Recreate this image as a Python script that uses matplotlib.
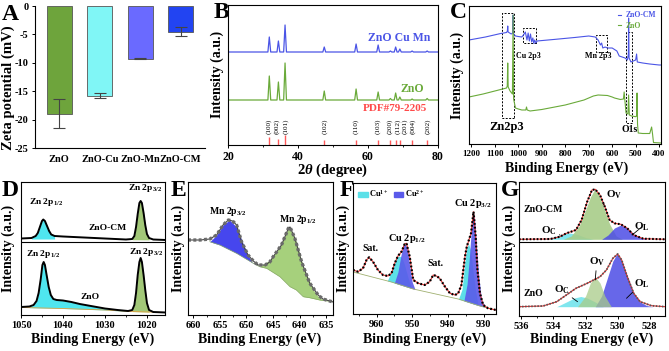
import numpy as np
import matplotlib
matplotlib.use('Agg')
import matplotlib.pyplot as plt
from matplotlib.patches import Patch, Rectangle
from matplotlib.ticker import AutoMinorLocator

plt.rcParams.update({
    'font.family': ['Liberation Serif', 'DejaVu Serif'],
    'font.weight': 'bold',
    'axes.labelweight': 'bold',
    'mathtext.fontset': 'custom',
    'mathtext.rm': 'Liberation Serif:bold',
    'mathtext.it': 'Liberation Serif:italic:bold',
    'mathtext.bf': 'Liberation Serif:bold',
    'mathtext.default': 'rm',
    'axes.unicode_minus': False,
    'axes.linewidth': 0.8,
    'xtick.major.width': 0.7, 'ytick.major.width': 0.7,
    'xtick.minor.width': 0.6, 'ytick.minor.width': 0.6,
    'xtick.major.size': 2.5, 'ytick.major.size': 2.5,
    'xtick.minor.size': 1.5, 'ytick.minor.size': 1.5,
    'xtick.direction': 'out', 'ytick.direction': 'out',
})

# ---------------- data ----------------
# A: zeta potential
zeta_labels = ['ZnO', 'ZnO-Cu', 'ZnO-Mn', 'ZnO-CM']
zeta_values = [-19.0, -15.8, -9.3, -4.5]
zeta_errors = [2.55, 0.4, 0.1, 0.85]
zeta_colors = ['#6ea43c', '#80f6f6', '#6a6aff', '#2244f2']

# B: XRD
xrd_hkl = ['(100)', '(002)', '(101)', '(102)', '(110)', '(103)', '(200)', '(112)', '(201)', '(004)', '(202)']
xrd_pos = [31.8, 34.4, 36.3, 47.5, 56.6, 62.9, 66.4, 67.9, 69.1, 72.6, 76.9]
xrd_label_pos = [31.6, 34.0, 36.4, 47.5, 56.6, 62.9, 66.3, 68.5, 70.6, 72.9, 77.2]
xrd_ref_h = [8.3, 5.7, 10, 5, 5, 5, 4.5, 5, 4.5, 4.5, 4.5]
xrd_zno_peak = [69, 63, 82, 54, 56, 53, 46.5, 52, 48, 46, 46.5]
xrd_cm_peak = [108, 104, 120, 98, 101, 100, 94, 98, 96, 94, 94]
xrd_zno_base = 45
xrd_cm_base = 93

# C: XPS survey
c_cm_ev = [1210, 1140, 1075, 1050, 1046.5, 1045, 1043.5, 1030, 1024, 1022, 1020, 1012, 1000, 985, 978, 970,
           963, 958, 953, 948, 943, 938, 934, 930, 925, 920, 850, 760, 700, 672, 660, 650, 645, 640, 630, 620,
           600, 580, 570, 545, 535, 531, 530, 528, 520, 500, 496, 493, 470, 440, 400, 392]
c_cm_y = [104, 107, 110.5, 111.5, 113, 118, 112, 110, 111, 129, 110, 108, 107.5, 107, 109, 112,
          104, 111, 103, 110, 102, 106, 100.5, 104, 101, 103, 104.5, 106.5, 108, 107, 104, 99, 101, 96, 97, 96,
          96, 93, 88, 86, 84, 90, 126, 86, 82, 84, 90, 82, 81, 80, 79, 79]
c_zno_ev = [1210, 1150, 1075, 1050, 1047, 1045, 1043, 1035, 1025, 1022, 1020, 1012, 1000, 985, 968, 965, 962,
            950, 900, 800, 720, 680, 660, 620, 600, 590, 565, 552, 549, 546, 541, 533, 530, 527, 517, 500, 496,
            494, 492, 489, 470, 440, 432, 428, 424, 392]
c_zno_y = [47, 50, 54.5, 56, 58, 81, 57, 53, 50, 129, 45, 36, 35, 34, 34, 37, 34,
           33, 34.5, 39, 44, 48, 49, 48.5, 47, 46, 44.5, 45, 52, 44, 31, 30, 49, 29, 28, 27.3, 28,
           51, 20, 11, 10.5, 10.5, 17, 10, 1.5, 1]

# D: Zn 2p
d_cm_ev = [1050, 1047.5, 1046.5, 1046, 1045.5, 1045, 1044.7, 1044.3, 1043.8, 1043.3, 1042.8, 1042, 1040, 1035,
           1030, 1025, 1023.5, 1023, 1022.6, 1022.2, 1021.8, 1021.5, 1021.2, 1020.8, 1020.4, 1020, 1019.5,
           1018.5, 1015.5]
d_cm_y = [76.5, 77, 79, 82, 88, 94, 95.5, 94, 89, 84, 80.5, 79, 78.5, 77.5,
          76.5, 75.5, 76, 79, 88, 101, 112, 114, 112, 102, 90, 81, 77,
          75.5, 75]
d_cm_bg_ev = [1050, 1040, 1030, 1015.5]
d_cm_bg_y = [76, 76, 75.5, 75]
d_zno_ev = [1050, 1048, 1047, 1046.3, 1045.8, 1045.3, 1044.9, 1044.6, 1044.3, 1043.9, 1043.4, 1042.9, 1042.3,
            1041.5, 1040, 1038, 1036, 1034, 1032, 1030, 1027, 1024.5, 1023.5, 1023, 1022.6, 1022.2, 1021.8,
            1021.5, 1021.2, 1020.8, 1020.4, 1020, 1019.5, 1018.5, 1015.5]
d_zno_y = [8, 8.5, 10, 14, 22, 36, 50, 53, 50, 40, 28, 20, 16,
           15, 14.5, 13, 11, 9.5, 8, 6.5, 5, 4, 5, 10, 22, 40, 53,
           57, 53, 40, 25, 12, 5, 3, 2.5]
d_zno_bg_ev = [1050, 1040, 1030, 1024, 1015.5]
d_zno_bg_y = [7.5, 6.5, 5, 3.5, 2.5]

# E: Mn 2p
e_ev = [661, 658.7, 656.9, 655.6, 654.4, 653.4, 652.6, 651.85, 650.9, 649.7, 648.7, 647.8, 646.5, 645.6,
        645.0, 643.4, 642.1, 641.8, 640.9, 639.6, 638.1, 636.5, 635.6, 633.7]
e_y = [75, 75, 76, 80, 90, 95, 94, 90, 73, 60, 54, 50, 50, 53,
       58, 70, 86.7, 88, 77, 53, 32, 20, 16, 13]
e_bg_ev = [656.9, 655.0, 651.85, 648.7, 647.5, 646.2, 643.7, 641.8, 640.6, 639.3, 638.1, 636.2, 633.7]
e_bg_y = [73.3, 70, 61.7, 51.7, 48.3, 46.7, 38.3, 28.3, 25, 18.3, 17.3, 15, 13.5]
e_mn32_ev = [656.9, 655.6, 654.4, 653.2, 651.85, 650.9, 650.0, 649.0, 647.5]
e_mn32_y = [73.3, 80, 90, 95, 88, 75, 63, 53, 48.3]
e_mn12_ev = [647.5, 645.6, 643.7, 642.0, 640.6, 639.3, 637.4, 636.2, 634.5]
e_mn12_y = [48.3, 55, 68.3, 88.3, 73.3, 48.3, 25, 16.7, 14]

# F: Cu 2p
f_ev = [966.6, 965.2, 963.8, 962.8, 962.1, 961.0, 959.6, 958.2, 956.8, 955.8, 954.9, 954.0, 953.0, 952.1,
        951.6, 950.7, 949.7, 948.3, 946.5, 945.1, 944.1, 943.2, 942.3, 940.8, 939.4, 938.0, 937.1, 936.2,
        935.2, 934.7, 934.1, 933.5, 932.8, 932.2, 931.7, 931.0, 930.1, 928.7, 926.5]
f_y = [44, 42.3, 45.7, 54, 56.7, 52.3, 44, 39, 38, 40.7, 50.7, 58, 62.3, 70,
       70.7, 57.3, 34, 30.7, 29, 32.3, 39, 38, 35.7, 27.3, 20.7, 19, 20.7, 29,
       57.3, 67.3, 74, 80.7, 102.3, 77.3, 44, 20.7, 9, 5.7, 4]
f_bg_ev = [966.6, 955.8, 949.7, 937.1, 931.0, 926.5]
f_bg_y = [42, 32, 25, 15, 8, 4]
f_cu1a_ev = [957.0, 955.5, 954.5, 953.8, 953.0, 952.2, 951.3, 950.3]
f_cu1a_y = [33, 45, 55, 58, 57, 50, 38, 26]
f_cu2a_ev = [955.0, 954.0, 953.2, 952.5, 951.9, 951.3, 950.7, 950.0, 949.2]
f_cu2a_y = [31.1, 42, 58, 68, 70, 64, 48, 32, 24.6]
f_cu1b_ev = [937.0, 936.0, 935.3, 934.7, 934.2, 933.6, 933.0, 932.3, 931.5]
f_cu1b_y = [15, 25, 50, 66, 70, 64, 45, 25, 8.6]
f_cu2b_ev = [935.5, 934.6, 934.0, 933.4, 932.9, 932.5, 932.0, 931.4, 930.6, 929.5]
f_cu2b_y = [13.1, 30, 55, 85, 102, 95, 70, 40, 15, 6.7]

# G: O 1s
g_cm_ev = [536.15, 534.2, 533.6, 533.2, 532.6, 532.25, 531.9, 531.6, 531.4, 531.1, 530.8, 530.5, 530.2,
           529.8, 529.4, 529.0, 528.4, 527.05]
g_cm_y = [76.7, 77, 79.3, 82.7, 86, 96, 114.3, 126, 126.7, 121, 109.3, 96, 92.7,
          91.7, 87.7, 81, 77.3, 76.7]
g_cm_base = 76.7
g_zno_ev = [536.15, 534.65, 533.8, 533.2, 532.6, 531.9, 531.5, 531.1, 530.7, 530.3, 530.0, 529.75, 529.4,
            529.0, 528.6, 527.9, 527.05]
g_zno_y = [9.3, 10, 14.3, 21, 27.7, 32.7, 36, 39.3, 46, 57.7, 62, 56, 39.3,
           22.7, 14.3, 10.3, 9.3]
g_zno_base = 9.3
g_cm_oc_ev = [534.8, 534.0, 533.4, 533.0, 532.5, 532.0, 531.5]
g_cm_oc_y = [76.7, 79, 82, 83, 81.5, 78.5, 76.7]
g_cm_ov_ev = [533.4, 532.9, 532.4, 532.0, 531.7, 531.45, 531.2, 530.9, 530.5, 530.1, 529.7]
g_cm_ov_y = [76.7, 80, 90, 106, 119, 126, 122, 110, 92, 80, 76.7]
g_cm_ol_ev = [531.0, 530.6, 530.2, 529.8, 529.4, 529.0, 528.6, 528.2]
g_cm_ol_y = [76.7, 81, 88, 91, 88, 82, 78.5, 76.7]
g_zno_oc_ev = [533.8, 533.2, 532.7, 532.3, 531.9, 531.4, 530.9]
g_zno_oc_y = [9.3, 14, 18, 19.5, 18, 14, 9.3]
g_zno_ov_ev = [532.5, 532.0, 531.7, 531.4, 531.1, 530.8, 530.4]
g_zno_ov_y = [9.3, 20, 33, 39, 33, 20, 9.3]
g_zno_ol_ev = [531.4, 531.0, 530.6, 530.3, 530.05, 529.8, 529.4, 529.0, 528.6, 528.2, 527.8]
g_zno_ol_y = [9.3, 20, 40, 55, 62, 57, 40, 23, 14, 10.5, 9.3]

# ---------------- helpers ----------------
W, H = 669, 351
fig = plt.figure(figsize=(W / 100, H / 100), dpi=100)


def add_ax(l, t, r, b):
    return fig.add_axes([l / W, 1 - b / H, (r - l) / W, (b - t) / H])


def ftext(x, y, s, **kw):
    fig.text(x / W, 1 - y / H, s, **kw)


def interp(grid, xs, ys):
    xs = np.asarray(xs, float)
    ys = np.asarray(ys, float)
    o = np.argsort(xs)
    return np.interp(grid, xs[o], ys[o])


def fill_comp(ax, xs, ys, bgx, bgy, color, alpha=1.0):
    grid = np.linspace(min(xs), max(xs), 300)
    top = interp(grid, xs, ys)
    bot = interp(grid, bgx, bgy)
    top = np.maximum(top, bot)
    ax.fill_between(grid, bot, top, color=color, lw=0, alpha=alpha)


def sub(xs, ys, lo, hi):
    pairs = [(x, y) for x, y in zip(xs, ys) if lo <= x <= hi]
    return [p[0] for p in pairs], [p[1] for p in pairs]


def no_y(ax):
    ax.set_yticks([])


LBL = 10
PANEL = 17
TICK_B = 7.5

# ---------------- A ----------------
axA = add_ax(35, 6, 205, 148)
xA = np.arange(len(zeta_labels))
axA.bar(xA, zeta_values, width=0.62, color=zeta_colors, edgecolor='#555555', linewidth=0.6)
axA.errorbar(xA, zeta_values, yerr=zeta_errors, fmt='none', ecolor='#444444', elinewidth=0.8,
             capsize=4.5, capthick=0.8)
axA.set_xlim(-0.6, 3.6)
axA.set_ylim(-25, 0)
axA.set_yticks([0, -5, -10, -15, -20, -25])
axA.set_xticks(xA)
axA.set_xticklabels(zeta_labels)
axA.tick_params(labelsize=7.5, length=2.5, pad=2)
axA.tick_params(axis='x', length=0, pad=5)
axA.spines['top'].set_visible(False)
axA.spines['right'].set_visible(False)
ftext(8, 88, 'Zeta potential (mV)', rotation=90, ha='center', va='center', fontsize=10.6)
ftext(10, 14, 'A', fontsize=PANEL, ha='center', va='center')

# ---------------- B ----------------
axB = add_ax(228, 5, 438, 145)


def xrd_line(peaks, base):
    xs, ys = [20], [base]
    for p, h in zip(xrd_pos, peaks):
        xs += [p - 0.4, p, p + 0.4]
        ys += [base, h, base]
    xs.append(80)
    ys.append(base)
    return xs, ys


bx, by = xrd_line(xrd_cm_peak, xrd_cm_base)
axB.plot(bx, by, color='#4b55e6', lw=0.9)
gx, gy = xrd_line(xrd_zno_peak, xrd_zno_base)
axB.plot(gx, gy, color='#6aaa3a', lw=0.9)
axB.vlines(xrd_pos, 0, xrd_ref_h, color='#ff5a5a', lw=1.0)
for p, lab in zip(xrd_label_pos, xrd_hkl):
    axB.text(p, 11, lab, rotation=90, ha='center', va='bottom', fontsize=5.2, fontweight='normal')
axB.text(68.9, 107, 'ZnO Cu Mn', color='#4b55e6', ha='center', va='center', fontsize=8.5)
axB.text(72.6, 56, 'ZnO', color='#6aaa3a', ha='center', va='center', fontsize=8.5)
axB.text(67.7, 36, 'PDF#79-2205', color='#ff4a4a', ha='center', va='center', fontsize=8)
axB.set_xlim(20, 80)
axB.set_ylim(0, 140)
axB.set_xticks([20, 40, 60, 80])
axB.xaxis.set_minor_locator(AutoMinorLocator(2))
axB.tick_params(labelsize=8.5, pad=1.5)
no_y(axB)
ftext(217, 74, 'Intensity (a.u.)', rotation=90, ha='center', va='center', fontsize=LBL)
ftext(333, 170, r'2$\mathit{\theta}$ (degree)', ha='center', va='center', fontsize=10.5)
ftext(221, 13, 'B', fontsize=PANEL, ha='center', va='center')

# ---------------- C ----------------
axC = add_ax(469, 6, 661, 144)
axC.plot(c_cm_ev, c_cm_y, color='#4b55e6', lw=0.8, label='ZnO-CM')
axC.plot(c_zno_ev, c_zno_y, color='#6aaa3a', lw=0.8, label='ZnO')
axC.set_xlim(1210, 392)
axC.set_ylim(0, 138)
axC.set_xticks(np.arange(1200, 399, -100))
axC.tick_params(labelsize=6.5, pad=2)
no_y(axC)
boxes = [(1067.5, 1018, 131.3, 25.7), (979.5, 925.4, 115.7, 100.7), (670.8, 623.8, 109, 92.3),
         (543, 514.6, 112.3, 21.3)]
for x0, x1, y0, y1 in boxes:
    axC.add_patch(Rectangle((x1, y1), x0 - x1, y0 - y1, fill=False, ls=(0, (2, 1.5)), lw=0.7, ec='black'))
axC.text(1049, 17, 'Zn2p3', ha='center', va='center', fontsize=9)
axC.text(957, 88, 'Cu 2p3', ha='center', va='center', fontsize=5.8)
axC.text(660, 88, 'Mn 2p3', ha='center', va='center', fontsize=5.8)
axC.text(525, 14, 'O1s', ha='center', va='center', fontsize=7)
axC.legend(loc='upper right', fontsize=5.5, handlelength=0.4, labelcolor='linecolor', frameon=False,
           borderaxespad=0.3, handletextpad=0.6, labelspacing=0.35)
ftext(457, 75, 'Intensity (a.u.)', rotation=90, ha='center', va='center', fontsize=LBL)
ftext(567, 168, 'Binding Energy (eV)', ha='center', va='center', fontsize=LBL)
ftext(458, 13, 'C', fontsize=PANEL, ha='center', va='center')

# ---------------- D ----------------
axD = add_ax(21, 182, 165, 315)
CY = '#4fe6ef'
GR = '#a2c878'
fill_comp(axD, *sub(d_cm_ev, d_cm_y, 1042, 1047.5), d_cm_bg_ev, d_cm_bg_y, CY)
fill_comp(axD, *sub(d_cm_ev, d_cm_y, 1019.5, 1023.5), d_cm_bg_ev, d_cm_bg_y, GR)
fill_comp(axD, *sub(d_zno_ev, d_zno_y, 1024.5, 1048), d_zno_bg_ev, d_zno_bg_y, CY)
fill_comp(axD, *sub(d_zno_ev, d_zno_y, 1019.5, 1023.5), d_zno_bg_ev, d_zno_bg_y, GR)
axD.plot(d_zno_bg_ev, d_zno_bg_y, color='#e0a040', lw=0.6)
axD.plot(d_cm_ev, d_cm_y, color='black', lw=1.4)
axD.plot(d_zno_ev, d_zno_y, color='black', lw=1.4)
axD.axhline(73, color='black', lw=0.8)
axD.set_xlim(1050, 1015.7)
axD.set_ylim(0, 133)
axD.set_xticks([1050, 1040, 1030, 1020])
axD.xaxis.set_minor_locator(AutoMinorLocator(2))
axD.tick_params(labelsize=TICK_B, pad=2)
no_y(axD)
dfs = 6.8
axD.text(1043.9, 113.5, r'Zn 2p$_{1/2}$', ha='center', va='center', fontsize=dfs)
axD.text(1020.4, 127, r'Zn 2p$_{3/2}$', ha='center', va='center', fontsize=dfs)
axD.text(1029.4, 86.7, 'ZnO-CM', ha='center', va='center', fontsize=dfs)
axD.text(1044.7, 61, r'Zn 2p$_{1/2}$', ha='center', va='center', fontsize=dfs)
axD.text(1020.3, 63.3, r'Zn 2p$_{3/2}$', ha='center', va='center', fontsize=dfs)
axD.text(1033.6, 18, 'ZnO', ha='center', va='center', fontsize=dfs)
ftext(8, 248, 'Intensity (a.u.)', rotation=90, ha='center', va='center', fontsize=LBL)
ftext(93, 339, 'Binding Energy (eV)', ha='center', va='center', fontsize=LBL)
ftext(10, 190, 'D', fontsize=PANEL, ha='center', va='center')

# ---------------- E ----------------
axE = add_ax(188, 182, 333, 315)
fill_comp(axE, e_mn32_ev, e_mn32_y, e_bg_ev, e_bg_y, '#4646ee')
fill_comp(axE, e_mn12_ev, e_mn12_y, e_bg_ev, e_bg_y, '#a6d07c')
axE.plot(e_bg_ev, e_bg_y, color='#88aa66', lw=0.5)
axE.plot(e_ev, e_y, color='#444444', lw=0.8)
axE.plot(e_ev, e_y, color='#6a6a6a', lw=2.4, dashes=(0.9, 0.7))
axE.set_xlim(661, 633.7)
axE.set_ylim(0, 133)
axE.set_xticks([660, 655, 650, 645, 640, 635])
axE.xaxis.set_minor_locator(AutoMinorLocator(2))
axE.tick_params(labelsize=TICK_B, pad=2)
no_y(axE)
axE.text(653.4, 103.3, r'Mn 2p$_{3/2}$', ha='center', va='center', fontsize=7)
axE.text(640.3, 95, r'Mn 2p$_{1/2}$', ha='center', va='center', fontsize=7)
ftext(178, 248, 'Intensity (a.u.)', rotation=90, ha='center', va='center', fontsize=LBL)
ftext(260, 339, 'Binding Energy (eV)', ha='center', va='center', fontsize=LBL)
ftext(178, 190, 'E', fontsize=PANEL, ha='center', va='center')

# ---------------- F ----------------
axF = add_ax(353, 183, 496, 314)
CY_F = '#5ce0e8'
BL_F = '#5a5aea'
fill_comp(axF, f_cu1a_ev, f_cu1a_y, f_bg_ev, f_bg_y, CY_F)
fill_comp(axF, f_cu2a_ev, f_cu2a_y, f_bg_ev, f_bg_y, BL_F, alpha=0.9)
fill_comp(axF, f_cu1b_ev, f_cu1b_y, f_bg_ev, f_bg_y, CY_F)
fill_comp(axF, f_cu2b_ev, f_cu2b_y, f_bg_ev, f_bg_y, BL_F, alpha=0.9)
axF.plot(f_bg_ev, f_bg_y, color='#a0b070', lw=0.6)
axF.plot(f_ev, f_y, color='#e03030', lw=0.8)
axF.plot(f_ev, f_y, color='black', lw=1.6, dashes=(0.8, 0.9))
axF.set_xlim(966.6, 926.5)
axF.set_ylim(0, 131)
axF.set_xticks([960, 950, 940, 930])
axF.xaxis.set_minor_locator(AutoMinorLocator(2))
axF.tick_params(labelsize=TICK_B, pad=2)
no_y(axF)
axF.legend(handles=[Patch(color=CY_F), Patch(color=BL_F)], labels=['Cu$^{1+}$', 'Cu$^{2+}$'],
           loc='upper left', ncol=2, fontsize=6, handlelength=1.1, handleheight=0.5, handletextpad=0.2,
           columnspacing=0.6, frameon=False, borderaxespad=0.25)
axF.text(961.7, 65.7, 'Sat.', ha='center', va='center', fontsize=7)
axF.text(951.6, 75.7, r'Cu 2p$_{1/2}$', ha='center', va='center', fontsize=7.5)
axF.text(943.4, 50.7, 'Sat.', ha='center', va='center', fontsize=7)
axF.text(933.1, 110.7, r'Cu 2p$_{3/2}$', ha='center', va='center', fontsize=7.5)
ftext(343, 248, 'Intensity (a.u.)', rotation=90, ha='center', va='center', fontsize=LBL)
ftext(425, 339, 'Binding Energy (eV)', ha='center', va='center', fontsize=LBL)
ftext(347, 191, 'F', fontsize=PANEL, ha='center', va='center')

# ---------------- G ----------------
axG = add_ax(519, 182, 665, 316)
CY_G = '#80e6ee'
GR_G = '#a8cc88'
BL_G = '#4c4ce6'
base_cm = [536.15, 527.05], [g_cm_base, g_cm_base]
base_zno = [536.15, 527.05], [g_zno_base, g_zno_base]
fill_comp(axG, g_cm_oc_ev, g_cm_oc_y, *base_cm, CY_G)
fill_comp(axG, g_cm_ov_ev, g_cm_ov_y, *base_cm, GR_G, alpha=0.9)
fill_comp(axG, g_cm_ol_ev, g_cm_ol_y, *base_cm, BL_G, alpha=0.85)
fill_comp(axG, g_zno_oc_ev, g_zno_oc_y, *base_zno, CY_G)
fill_comp(axG, g_zno_ol_ev, g_zno_ol_y, *base_zno, BL_G, alpha=0.85)
fill_comp(axG, g_zno_ov_ev, g_zno_ov_y, *base_zno, GR_G, alpha=0.75)
axG.plot(g_cm_ev, g_cm_y, color='#e03030', lw=0.8)
axG.plot(g_cm_ev, g_cm_y, color='black', lw=1.5, dashes=(0.8, 0.9))
axG.plot(g_zno_ev, g_zno_y, color='#e03030', lw=0.8)
axG.plot(g_zno_ev, g_zno_y, color='#555555', lw=1.3, dashes=(0.8, 0.9))
axG.axhline(74.3, color='black', lw=0.8)
axG.set_xlim(536.15, 527.05)
axG.set_ylim(0, 134)
axG.set_xticks([536, 534, 532, 530, 528])
axG.xaxis.set_minor_locator(AutoMinorLocator(2))
axG.tick_params(labelsize=TICK_B, pad=2)
no_y(axG)
ap = dict(arrowstyle='-', lw=0.6, color='black', shrinkA=0, shrinkB=0)
axG.text(535.9, 106, 'ZnO-CM', ha='left', va='center', fontsize=7)
axG.annotate(r'O$_C$', xy=(533.6, 81), xytext=(534.3, 85), ha='center', va='center', fontsize=8, arrowprops=ap)
axG.annotate(r'O$_V$', xy=(530.9, 111), xytext=(530.2, 121), ha='center', va='center', fontsize=8, arrowprops=ap)
axG.annotate(r'O$_L$', xy=(529.1, 81), xytext=(528.5, 89), ha='center', va='center', fontsize=8, arrowprops=ap)
axG.text(535.9, 22.7, 'ZnO', ha='left', va='center', fontsize=7)
axG.annotate(r'O$_C$', xy=(532.5, 14.3), xytext=(533.5, 26), ha='center', va='center', fontsize=8, arrowprops=ap)
axG.annotate(r'O$_V$', xy=(531.4, 36), xytext=(531.3, 54.3), ha='center', va='center', fontsize=8, arrowprops=ap)
axG.annotate(r'O$_L$', xy=(529.45, 17.7), xytext=(528.5, 32.7), ha='center', va='center', fontsize=8, arrowprops=ap)
ftext(509, 248, 'Intensity (a.u.)', rotation=90, ha='center', va='center', fontsize=LBL)
ftext(592, 339, 'Binding Energy (eV)', ha='center', va='center', fontsize=LBL)
ftext(510, 190, 'G', fontsize=PANEL, ha='center', va='center')

fig.savefig('out.png', dpi=100)
